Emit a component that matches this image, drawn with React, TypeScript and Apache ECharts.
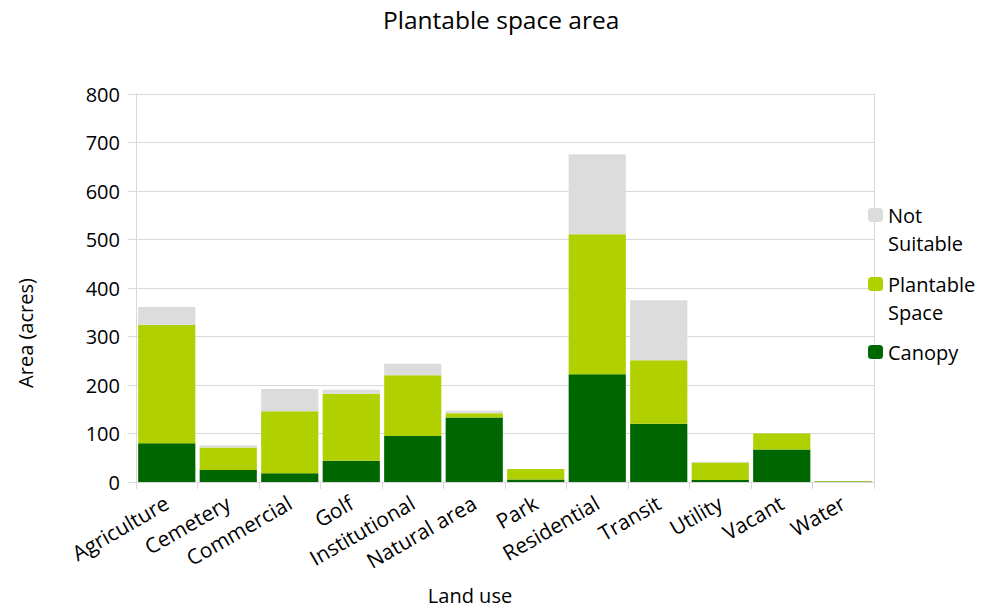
import React, { useEffect, useRef } from "react";
import * as echarts from "echarts";

const landUse = [
  "Agriculture",
  "Cemetery",
  "Commercial",
  "Golf",
  "Institutional",
  "Natural area",
  "Park",
  "Residential",
  "Transit",
  "Utility",
  "Vacant",
  "Water",
];

const canopy = [80, 25, 18, 44, 95, 133, 5, 222, 120, 4, 67, 1];
const plantableSpace = [244, 46, 128, 138, 125, 9, 22, 289, 131, 36, 33, 1];
const notSuitable = [37, 5, 46, 8, 24, 5, 0, 165, 124, 2, 0, 0];

const yTicks = [0, 100, 200, 300, 400, 500, 600, 700, 800];

const FONT = "'Open Sans', 'Noto Sans', sans-serif";
const GRID_COLOR = "#d9d9d9";

export default function App() {
  const ref = useRef<HTMLDivElement>(null);

  useEffect(() => {
    if (!ref.current) return;
    const chart = echarts.init(ref.current, undefined, { renderer: "svg" });

    const legendText = { fontFamily: FONT, fontSize: 20, color: "#000", lineHeight: 28 };
    const legendBase = {
      orient: "vertical",
      left: 863,
      itemWidth: 15,
      itemHeight: 14,
      itemGap: 0,
      textStyle: legendText,
    };

    chart.setOption({
      animation: false,
      backgroundColor: "#fff",
      textStyle: { fontFamily: FONT },
      title: {
        text: "Plantable space area",
        left: 378,
        top: 2,
        textStyle: { fontFamily: FONT, fontSize: 24.5, fontWeight: "normal", color: "#000" },
      },
      legend: [
        {
          ...legendBase,
          data: ["Not Suitable"],
          top: 168,
          // empty first line keeps the swatch level with "Not"
          formatter: () => "\nNot\nSuitable",
        },
        {
          ...legendBase,
          data: ["Plantable Space"],
          top: 237,
          formatter: () => "\nPlantable\nSpace",
        },
        {
          ...legendBase,
          data: ["Canopy"],
          top: 333,
        },
      ],
      grid: { left: 136, right: 107, top: 94, bottom: 125, containLabel: false },
      xAxis: {
        type: "category",
        data: landUse,
        axisLine: { show: true, lineStyle: { color: GRID_COLOR } },
        axisTick: { show: true, length: 7, lineStyle: { color: GRID_COLOR } },
        axisLabel: {
          rotate: 30,
          margin: 19,
          interval: 0,
          fontFamily: FONT,
          fontSize: 21,
          color: "#000",
        },
        splitLine: { show: false },
      },
      yAxis: {
        type: "value",
        min: yTicks[0],
        max: yTicks[yTicks.length - 1],
        interval: 100,
        axisLine: { show: true, lineStyle: { color: GRID_COLOR } },
        axisTick: { show: true, length: 8, lineStyle: { color: GRID_COLOR } },
        axisLabel: { fontFamily: FONT, fontSize: 20, color: "#000", margin: 16 },
        splitLine: { show: true, lineStyle: { color: GRID_COLOR, width: 1 } },
      },
      graphic: [
        {
          type: "line",
          shape: { x1: 874.5, y1: 94, x2: 874.5, y2: 482 },
          style: { stroke: GRID_COLOR, lineWidth: 1 },
          silent: true,
        },
        {
          type: "text",
          x: 25,
          y: 333,
          rotation: Math.PI / 2,
          style: {
            text: "Area (acres)",
            fontFamily: FONT,
            fontSize: 20,
            fill: "#000",
            align: "center",
            verticalAlign: "middle",
          },
        },
        {
          type: "text",
          x: 470,
          y: 595,
          style: {
            text: "Land use",
            fontFamily: FONT,
            fontSize: 20,
            fill: "#000",
            align: "center",
            verticalAlign: "middle",
          },
        },
      ],
      series: [
        {
          name: "Canopy",
          type: "bar",
          stack: "area",
          data: canopy,
          barCategoryGap: "7%",
          itemStyle: { color: "#006600" },
        },
        {
          name: "Plantable Space",
          type: "bar",
          stack: "area",
          data: plantableSpace,
          barCategoryGap: "7%",
          itemStyle: { color: "#b0d000" },
        },
        {
          name: "Not Suitable",
          type: "bar",
          stack: "area",
          data: notSuitable,
          barCategoryGap: "7%",
          itemStyle: { color: "#dcdcdc" },
        },
      ],
    });

    return () => chart.dispose();
  }, []);

  return (
    <div
      ref={ref}
      style={{ position: "fixed", left: 0, top: 0, width: 981, height: 607 }}
    />
  );
}
